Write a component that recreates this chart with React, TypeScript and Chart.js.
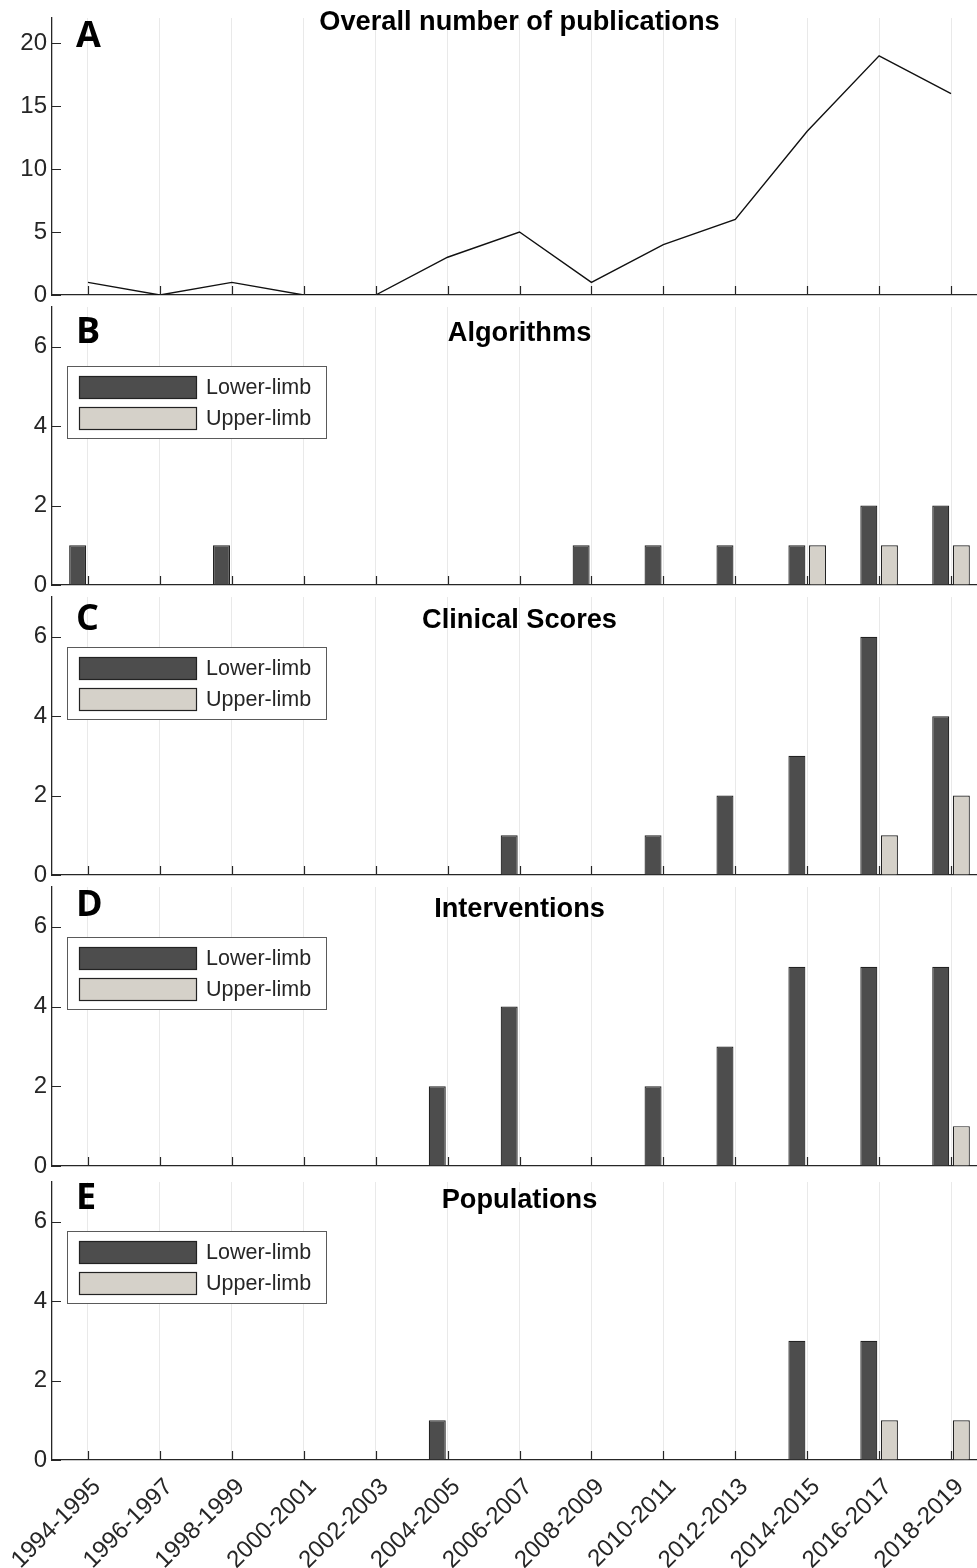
import React, { useEffect, useRef } from 'react';
import { Chart, registerables } from 'chart.js';

Chart.register(...registerables);

// ---------------- DATA ----------------
const categories = [
  '1994-1995', '1996-1997', '1998-1999', '2000-2001', '2002-2003', '2004-2005',
  '2006-2007', '2008-2009', '2010-2011', '2012-2013', '2014-2015', '2016-2017', '2018-2019',
];
const overallPublications = [1, 0, 1, 0, 0, 3, 5, 1, 4, 6, 13, 19, 16];

const algorithmsLower = [1, 0, 1, 0, 0, 0, 0, 1, 1, 1, 1, 2, 2];
const algorithmsUpper = [0, 0, 0, 0, 0, 0, 0, 0, 0, 0, 1, 1, 1];

const clinicalLower = [0, 0, 0, 0, 0, 0, 1, 0, 1, 2, 3, 6, 4];
const clinicalUpper = [0, 0, 0, 0, 0, 0, 0, 0, 0, 0, 0, 1, 2];

const interventionsLower = [0, 0, 0, 0, 0, 2, 4, 0, 2, 3, 5, 5, 5];
const interventionsUpper = [0, 0, 0, 0, 0, 0, 0, 0, 0, 0, 0, 0, 1];

const populationsLower = [0, 0, 0, 0, 0, 1, 0, 0, 0, 0, 3, 3, 0];
const populationsUpper = [0, 0, 0, 0, 0, 0, 0, 0, 0, 0, 0, 1, 1];

const seriesLabels = ['Lower-limb', 'Upper-limb'];
const panelLetters = ['A', 'B', 'C', 'D', 'E'];
const panelTitles = ['Overall number of publications', 'Algorithms', 'Clinical Scores', 'Interventions', 'Populations'];
const overallTickStep = 5;
const overallMax = 22;
const barTickStep = 2;
const barMax = 7;

// ---------------- STYLE / LAYOUT ----------------
const FONT = '"Liberation Sans", Arial, Helvetica, sans-serif';
const AXIS_COLOR = '#262626';
const GRID_COLOR = '#e9e9e9';
const LOWER_COLOR = '#4d4d4d';
const UPPER_COLOR = '#d5d1c9';
const CANVAS_W = 1000;
const PLOT_LEFT = 52;
const PLOT_RIGHT = 987;
const PAD_TOP = 18;
const PAD_BOTTOM = 14;
const PAGE_H = 1568;

type PanelLayout = {
  top: number; bottom: number; titleY: number; letterY: number; legendY?: number;
};
const layouts: PanelLayout[] = [
  { top: 18, bottom: 295, titleY: 30, letterY: 47 },
  { top: 307, bottom: 585, titleY: 341, letterY: 343, legendY: 366 },
  { top: 597, bottom: 875, titleY: 628, letterY: 630, legendY: 647 },
  { top: 887, bottom: 1166, titleY: 917, letterY: 916, legendY: 937 },
  { top: 1182, bottom: 1460, titleY: 1208, letterY: 1209, legendY: 1231 },
];

const barSeries = [
  [algorithmsLower, algorithmsUpper],
  [clinicalLower, clinicalUpper],
  [interventionsLower, interventionsUpper],
  [populationsLower, populationsUpper],
];

function makeDecorPlugin(idx: number, canvasTop: number, hasLegend: boolean) {
  const L = layouts[idx];
  return {
    id: 'decor' + idx,
    afterDraw(chart: any) {
      const ctx = chart.ctx;
      const area = chart.chartArea;
      const xs = chart.scales.x;
      const ys = chart.scales.y;
      ctx.save();
      // inward tick marks
      ctx.strokeStyle = AXIS_COLOR;
      ctx.lineWidth = 1.2;
      ctx.beginPath();
      for (let i = 0; i < xs.ticks.length; i++) {
        const x = Math.round(xs.getPixelForTick(i)) + 0.5;
        ctx.moveTo(x, area.bottom);
        ctx.lineTo(x, area.bottom - 9);
      }
      for (let i = 0; i < ys.ticks.length; i++) {
        const y = Math.round(ys.getPixelForTick(i)) + 0.5;
        ctx.moveTo(area.left, y);
        ctx.lineTo(area.left + 9, y);
      }
      ctx.stroke();

      // title
      ctx.fillStyle = '#000000';
      ctx.font = 'bold 27.2px ' + FONT;
      ctx.textAlign = 'center';
      ctx.textBaseline = 'alphabetic';
      ctx.fillText(panelTitles[idx], (PLOT_LEFT + PLOT_RIGHT) / 2, L.titleY - canvasTop);

      // panel letter
      ctx.font = '700 36px "Open Sans", "Noto Sans", sans-serif';
      ctx.textAlign = 'left';
      ctx.fillText(panelLetters[idx], 76, L.letterY - canvasTop);

      // legend
      if (hasLegend && L.legendY !== undefined) {
        const bx = 67;
        const by = L.legendY - canvasTop;
        const bw = 259;
        const bh = 72;
        ctx.fillStyle = '#ffffff';
        ctx.fillRect(bx, by, bw, bh);
        ctx.strokeStyle = '#5a5a5a';
        ctx.lineWidth = 1;
        ctx.strokeRect(bx + 0.5, by + 0.5, bw, bh);
        chart.data.datasets.forEach((ds: any, k: number) => {
          const sy = by + 10 + k * 31;
          ctx.fillStyle = ds.backgroundColor;
          ctx.fillRect(79, sy, 117, 22);
          ctx.strokeStyle = ds.borderColor;
          ctx.lineWidth = 1.2;
          ctx.strokeRect(79.5, sy + 0.5, 117, 22);
          ctx.fillStyle = AXIS_COLOR;
          ctx.font = '21.5px ' + FONT;
          ctx.textAlign = 'left';
          ctx.textBaseline = 'middle';
          ctx.fillText(ds.label, 206, sy + 12);
        });
      }
      ctx.restore();
    },
  };
}

function Panel({ idx }: { idx: number }) {
  const ref = useRef<HTMLCanvasElement | null>(null);
  const L = layouts[idx];
  const isBottom = idx === layouts.length - 1;
  const canvasTop = L.top - PAD_TOP;
  const xAxisH = isBottom ? PAGE_H - L.bottom : 0;
  const padBottom = isBottom ? 0 : PAD_BOTTOM;
  const canvasH = PAD_TOP + (L.bottom - L.top) + xAxisH + padBottom;

  useEffect(() => {
    if (!ref.current) return;
    const isLine = idx === 0;
    const datasets: any[] = isLine
      ? [{
          label: panelTitles[0],
          data: overallPublications,
          borderColor: '#111111',
          borderWidth: 1.4,
          pointRadius: 0,
          fill: false,
          tension: 0,
        }]
      : barSeries[idx - 1].map((vals, k) => ({
          label: seriesLabels[k],
          data: vals,
          backgroundColor: k === 0 ? LOWER_COLOR : UPPER_COLOR,
          borderColor: '#222222',
          borderWidth: 1.2,
          categoryPercentage: 0.573,
          barPercentage: 0.825,
        }));

    const chart = new Chart(ref.current, {
      type: isLine ? 'line' : 'bar',
      data: { labels: categories, datasets },
      options: {
        responsive: false,
        animation: false,
        devicePixelRatio: 1,
        layout: { padding: { top: PAD_TOP, right: CANVAS_W - PLOT_RIGHT, bottom: padBottom, left: 0 } },
        plugins: { legend: { display: false }, tooltip: { enabled: false }, title: { display: false } },
        scales: {
          x: {
            type: 'category',
            offset: true,
            grid: { display: true, offset: false, color: GRID_COLOR, lineWidth: 1, drawTicks: false },
            border: { display: true, color: AXIS_COLOR, width: 1.3 },
            ticks: {
              display: isBottom,
              autoSkip: false,
              minRotation: 45,
              maxRotation: 45,
              padding: 13,
              labelOffset: 9,
              color: AXIS_COLOR,
              font: { family: FONT, size: 24 },
            },
            afterFit: (s: any) => {
              s.height = xAxisH;
              s.paddingLeft = 0;
              s.paddingRight = 0;
            },
          },
          y: {
            min: 0,
            max: isLine ? overallMax : barMax,
            grid: { display: true, color: 'rgba(0,0,0,0)', drawTicks: false },
            border: { display: true, color: AXIS_COLOR, width: 1.3 },
            ticks: {
              stepSize: isLine ? overallTickStep : barTickStep,
              includeBounds: false,
              padding: 5,
              color: AXIS_COLOR,
              font: { family: FONT, size: 24 },
            },
            afterFit: (s: any) => {
              s.width = PLOT_LEFT;
              s.paddingTop = 0;
              s.paddingBottom = 0;
            },
          },
        },
      } as any,
      plugins: [makeDecorPlugin(idx, canvasTop, !isLine)],
    });
    return () => chart.destroy();
  }, []);

  return (
    <canvas
      ref={ref}
      width={CANVAS_W}
      height={canvasH}
      style={{ position: 'absolute', left: 0, top: canvasTop, width: CANVAS_W, height: canvasH }}
    />
  );
}

export default function App() {
  return (
    <div
      style={{
        position: 'absolute',
        left: 0,
        top: 0,
        width: 977,
        height: PAGE_H,
        overflow: 'hidden',
        background: '#ffffff',
      }}
    >
      {layouts.map((_, i) => (
        <Panel key={i} idx={i} />
      ))}
    </div>
  );
}
